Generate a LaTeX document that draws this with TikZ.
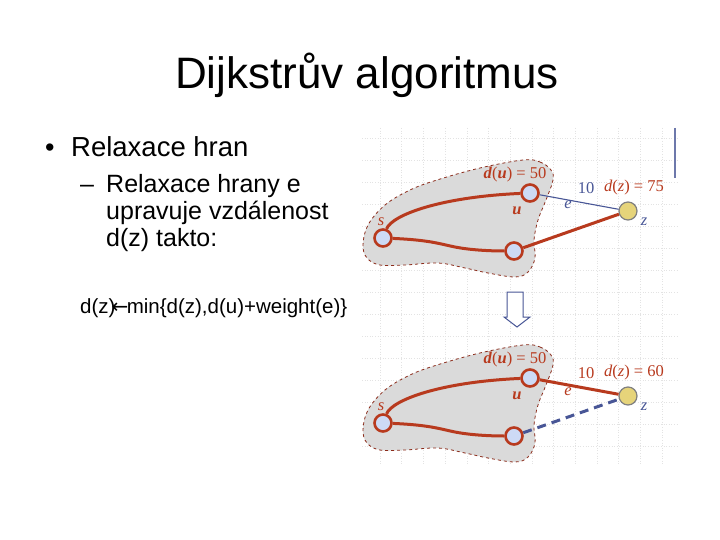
\documentclass[tikz,border=0pt]{standalone}
\usepackage{fontspec}
\setmainfont{Liberation Sans}
\newfontfamily\grafont{Liberation Serif}
\newfontfamily\arrfont{DejaVu Sans}
\usepackage{tikz}
\usetikzlibrary{positioning}
\definecolor{cred}{RGB}{184, 58, 30}
\definecolor{cdark}{RGB}{139, 43, 26}
\definecolor{cblue}{RGB}{72, 86, 150}
\definecolor{cnode}{RGB}{205, 218, 245}
\definecolor{cyel}{RGB}{230, 212, 122}
\definecolor{cblob}{RGB}{218, 218, 218}
\newcommand{\fsz}[1]{\fontsize{#1}{#1}\selectfont}
\newcommand{\blobpath}{(523,160) (540,162) (551,170) (553,180) (546,200) (538,220)
  (534,240) (535,258) (528,272) (515,277) (488,273) (465,268) (438,263) (405,265)
  (380,265) (367,258) (363,245) (368,225) (385,205) (410,190) (437,180) (480,168)}
\tikzset{
  vtx/.style={circle, draw=cred, line width=2.6pt, fill=cnode, minimum size=17pt, inner sep=0pt},
  target/.style={circle, draw=black!50, line width=1.2pt, fill=cyel, minimum size=18pt, inner sep=0pt},
  redge/.style={draw=cred, line width=3pt},
  bedge/.style={draw=cblue, line width=1.1pt},
  blob/.style={draw=cdark, dashed, fill=cblob, line width=0.8pt},
  lab/.style={font=\grafont\fsz{16.5}, text=cred, inner sep=0pt},
  gridline/.style={black!11, dotted, line width=0.6pt},
}

\begin{document}
\begin{tikzpicture}[x=1pt, y=-1pt]
  \useasboundingbox [fill=white] (0,0) rectangle (720,540);

  % background grid of the figure
  \foreach \gx in {380,401.7,...,676}
    \draw [gridline] (\gx,128) -- (\gx,465);
  \foreach \gy in {138,160,...,465}
    \draw [gridline] (362,\gy) -- (677,\gy);
  \draw [cblue!80, line width=1.2pt] (675,128) -- (675,178);

  % text
  \node (title) at (367,89) [anchor=base, inner sep=0pt, font=\fsz{44}] {Dijkstrův algoritmus};
  \node (dot) at (45,157) [anchor=base west, inner sep=0pt, font=\fsz{27}] {•};
  \node (item) at (71,157) [anchor=base west, inner sep=0pt, font=\fsz{27.5}] {Relaxace hran};
  \node (dash) at (80,193) [anchor=base west, inner sep=0pt, font=\fsz{25}] {–};
  \node (sub1) at (106,193) [anchor=base west, inner sep=0pt, font=\fsz{25}] {Relaxace hrany e};
  \node (sub2) at (106,220) [anchor=base west, inner sep=0pt, font=\fsz{25}] {upravuje vzdálenost};
  \node (sub3) at (106,247) [anchor=base west, inner sep=0pt, font=\fsz{25}] {d(z) takto:};
  \node (rule) at (80,313) [anchor=base west, inner sep=0pt, font=\fsz{20.5}]
    {d(z)\kern-4pt{\arrfont\fsz{20}←}\kern-1.5pt min\{d(z),d(u)+weight(e)\}};

  % graph before relaxation
  \begin{scope}
    \draw [blob] plot [smooth cycle, tension=0.6] coordinates {\blobpath};
    \node [vtx] (sA) at (383,238) {};
    \node [vtx] (uA) at (530,193) {};
    \node [vtx] (vA) at (514,251) {};
    \node [target] (zA) at (628,211) {};
    \draw [redge] (sA) .. controls (392,215) and (440,197) .. (uA);
    \draw [redge] (sA) .. controls (430,240) and (440,244) .. (455,247)
      .. controls (470,250) and (490,251) .. (vA);
    \draw [redge] (vA) -- (zA);
    \draw [bedge] (uA) -- (zA);
    \node [lab] (duA) at (515,175) {\textbf{\textit{d}}(\textbf{\textit{u}}) = 50};
    \node [lab] (ulA) at (517,211) {\textbf{\textit{u}}};
    \node [lab] (slA) at (381,222) {\textit{s}};
    \node [lab, text=cblue] (wA) at (586,188) {10};
    \node [lab] (dzA) at (634,188) {\textit{d}(\textit{z}) = 75};
    \node [lab, text=cblue] (eA) at (568,205) {\textit{e}};
    \node [lab, text=cblue] (zlA) at (644,222) {\textit{z}};
  \end{scope}

  % hollow arrow
  \draw [cblue, line width=1pt, fill=white] (507,292) -- (523,292) -- (523,317) -- (530,317)
    -- (517,327) -- (504,317) -- (507,317) -- cycle;

  % graph after relaxation
  \begin{scope}[shift={(0,185)}]
    \draw [blob] plot [smooth cycle, tension=0.6] coordinates {\blobpath};
    \node [vtx] (sB) at (383,238) {};
    \node [vtx] (uB) at (530,193) {};
    \node [vtx] (vB) at (514,251) {};
    \node [target] (zB) at (628,211) {};
    \draw [redge] (sB) .. controls (392,215) and (440,197) .. (uB);
    \draw [redge] (sB) .. controls (430,240) and (440,244) .. (455,247)
      .. controls (470,250) and (490,251) .. (vB);
    \draw [redge] (uB) -- (zB);
    \draw [draw=cblue, line width=3pt, dash pattern=on 9pt off 6pt] (vB) -- (zB);
    \node [lab] (duB) at (515,175) {\textbf{\textit{d}}(\textbf{\textit{u}}) = 50};
    \node [lab] (ulB) at (517,211) {\textbf{\textit{u}}};
    \node [lab] (slB) at (381,222) {\textit{s}};
    \node [lab] (wB) at (586,188) {10};
    \node [lab] (dzB) at (634,188) {\textit{d}(\textit{z}) = 60};
    \node [lab] (eB) at (568,207) {\textit{e}};
    \node [lab, text=cblue] (zlB) at (644,222) {\textit{z}};
  \end{scope}
\end{tikzpicture}
\end{document}
